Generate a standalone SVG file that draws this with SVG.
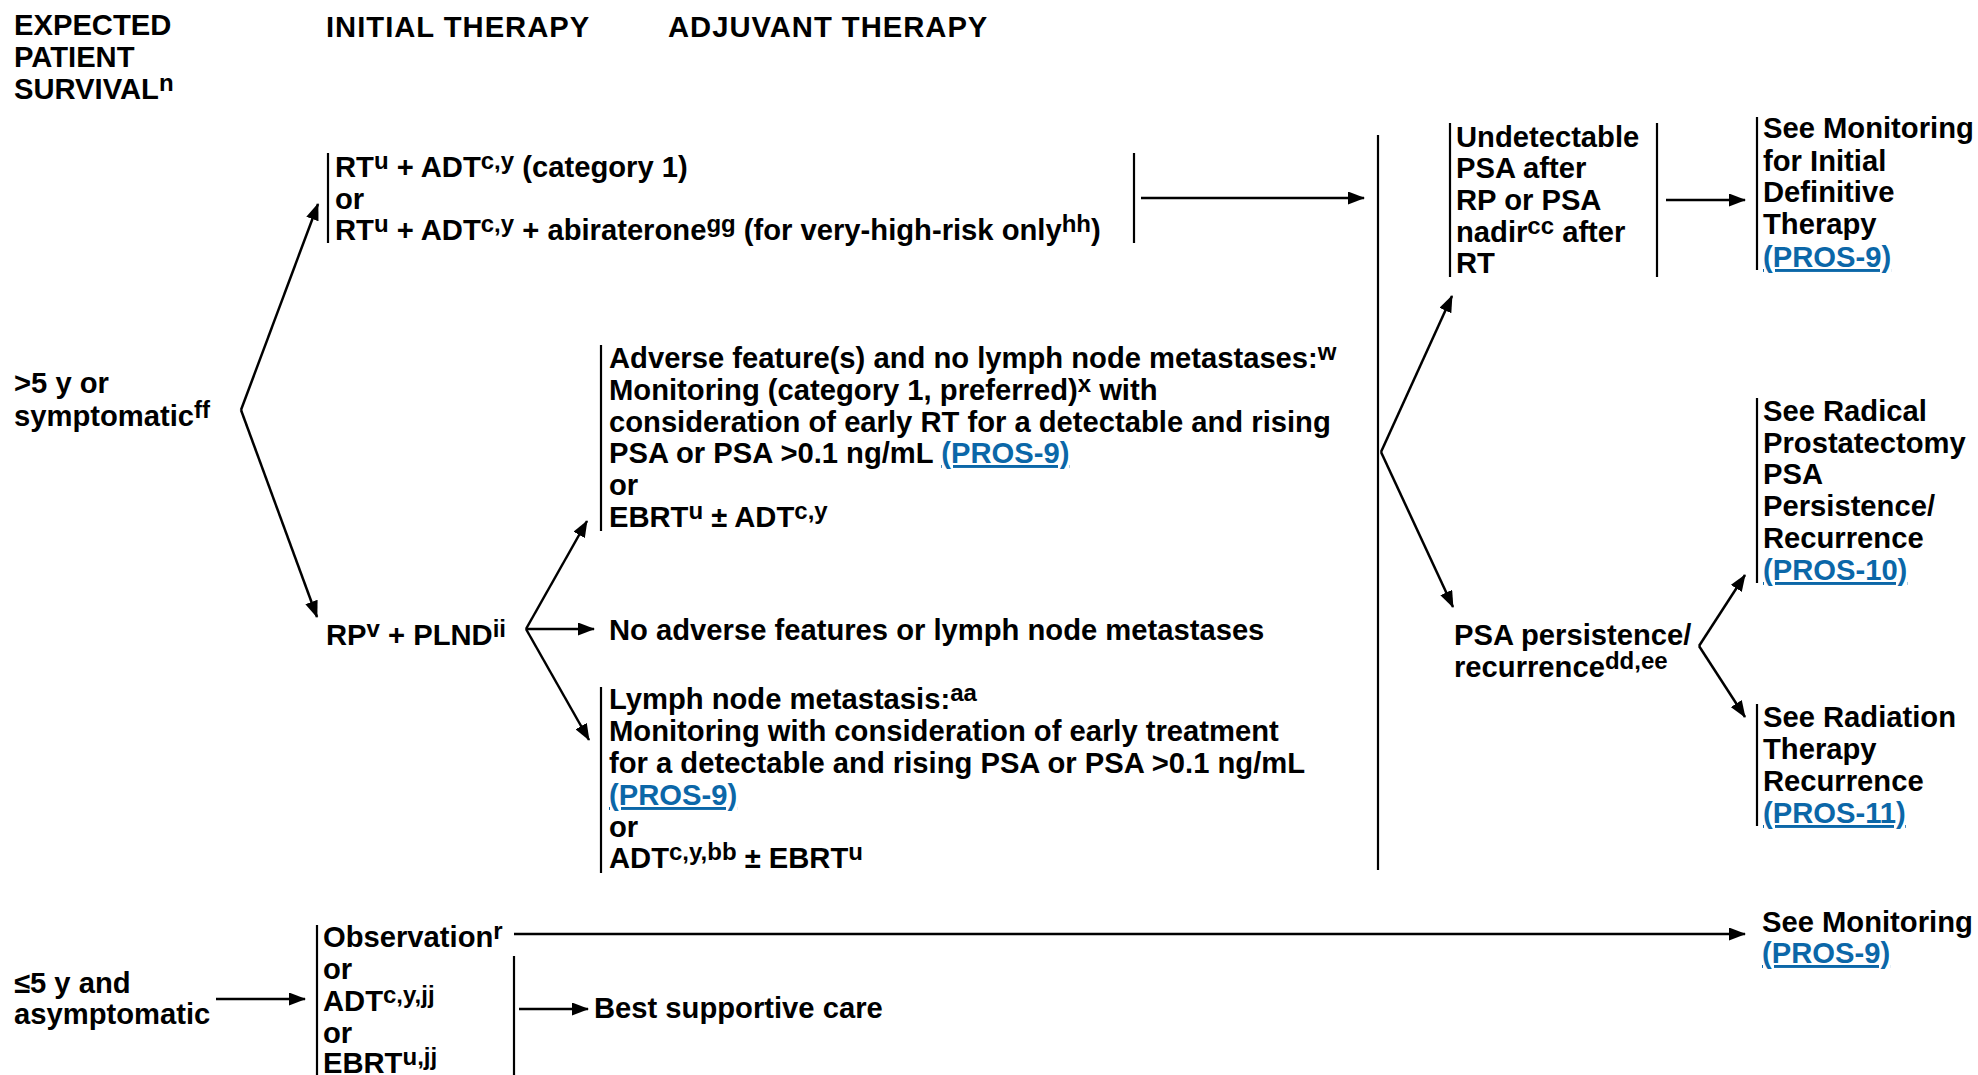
<svg xmlns="http://www.w3.org/2000/svg" width="1978" height="1075" viewBox="0 0 1978 1075">
<style>
.t{font-family:"Liberation Sans",Arial,Helvetica,sans-serif;font-weight:bold;font-size:29.2px;fill:#000}
.h{letter-spacing:1px}
.s{font-size:24px}
.lk{fill:#0b67a8;text-decoration:underline}
.bar{stroke:#000;stroke-width:2.2;fill:none}
.cn line{stroke:#000;stroke-width:2.5;marker-end:url(#ah)}
</style>
<defs>
<marker id="ah" markerUnits="userSpaceOnUse" markerWidth="17" markerHeight="13" refX="16" refY="6.5" orient="auto">
<path d="M0,0 L17,6.5 L0,13 z" fill="#000"/>
</marker>
</defs>
<rect width="1978" height="1075" fill="#fff"/>

<g id="headers">
<text class="t" x="14" y="35">EXPECTED</text>
<text class="t" x="14" y="67">PATIENT</text>
<text class="t" x="14" y="99">SURVIVAL<tspan class="s" dy="-8">n</tspan></text>
<text class="t h" x="326" y="37">INITIAL THERAPY</text>
<text class="t h" x="668" y="37">ADJUVANT THERAPY</text>
</g>

<g id="node-gt5">
<text class="t" x="14" y="393">&gt;5 y or</text>
<text class="t" x="14" y="426">symptomatic<tspan class="s" dy="-8">ff</tspan></text>
</g>

<g id="node-le5">
<text class="t" x="14" y="993">≤5 y and</text>
<text class="t" x="14" y="1024">asymptomatic</text>
</g>

<g id="node-rt">
<line class="bar" x1="328" y1="153" x2="328" y2="243"/>
<line class="bar" x1="1134" y1="153" x2="1134" y2="243"/>
<text class="t" x="335" y="177">RT<tspan class="s" dy="-8">u</tspan><tspan dy="8"> + ADT</tspan><tspan class="s" dy="-8">c,y</tspan><tspan dy="8"> (category 1)</tspan></text>
<text class="t" x="335" y="209">or</text>
<text class="t" x="335" y="240">RT<tspan class="s" dy="-8">u</tspan><tspan dy="8"> + ADT</tspan><tspan class="s" dy="-8">c,y</tspan><tspan dy="8"> + abiraterone</tspan><tspan class="s" dy="-8">gg</tspan><tspan dy="8"> (for very-high-risk only</tspan><tspan class="s" dy="-8">hh</tspan><tspan dy="8">)</tspan></text>
</g>

<g id="node-rp">
<text class="t" x="326" y="645">RP<tspan class="s" dy="-8">v</tspan><tspan dy="8"> + PLND</tspan><tspan class="s" dy="-8">ii</tspan></text>
</g>

<g id="node-adverse">
<line class="bar" x1="601" y1="345" x2="601" y2="531"/>
<text class="t" x="609" y="368">Adverse feature(s) and no lymph node metastases:<tspan class="s" dy="-8">w</tspan></text>
<text class="t" x="609" y="400">Monitoring (category 1, preferred)<tspan class="s" dy="-8">x</tspan><tspan dy="8"> with</tspan></text>
<text class="t" x="609" y="432">consideration of early RT for a detectable and rising</text>
<text class="t" x="609" y="463">PSA or PSA &gt;0.1 ng/mL <tspan class="lk">(PROS-9)</tspan></text>
<text class="t" x="609" y="495">or</text>
<text class="t" x="609" y="527">EBRT<tspan class="s" dy="-8">u</tspan><tspan dy="8"> ± ADT</tspan><tspan class="s" dy="-8">c,y</tspan></text>
</g>

<g id="node-noadverse">
<text class="t" x="609" y="640">No adverse features or lymph node metastases</text>
</g>

<g id="node-lymph">
<line class="bar" x1="601" y1="687" x2="601" y2="873"/>
<text class="t" x="609" y="709">Lymph node metastasis:<tspan class="s" dy="-8">aa</tspan></text>
<text class="t" x="609" y="741">Monitoring with consideration of early treatment</text>
<text class="t" x="609" y="773">for a detectable and rising PSA or PSA &gt;0.1 ng/mL</text>
<text class="t lk" x="609" y="805">(PROS-9)</text>
<text class="t" x="609" y="837">or</text>
<text class="t" x="609" y="868">ADT<tspan class="s" dy="-8">c,y,bb</tspan><tspan dy="8"> ± EBRT</tspan><tspan class="s" dy="-8">u</tspan></text>
</g>

<g id="collector">
<line class="bar" x1="1378" y1="135" x2="1378" y2="870"/>
</g>

<g id="node-undetectable">
<line class="bar" x1="1450" y1="123" x2="1450" y2="277"/>
<line class="bar" x1="1657" y1="123" x2="1657" y2="277"/>
<text class="t" x="1456" y="147">Undetectable</text>
<text class="t" x="1456" y="178">PSA after</text>
<text class="t" x="1456" y="210">RP or PSA</text>
<text class="t" x="1456" y="242">nadir<tspan class="s" dy="-8">cc</tspan><tspan dy="8"> after</tspan></text>
<text class="t" x="1456" y="273">RT</text>
</g>

<g id="node-monitoring-initial">
<line class="bar" x1="1757" y1="117" x2="1757" y2="270"/>
<text class="t" x="1763" y="138">See Monitoring</text>
<text class="t" x="1763" y="171">for Initial</text>
<text class="t" x="1763" y="202">Definitive</text>
<text class="t" x="1763" y="234">Therapy</text>
<text class="t lk" x="1763" y="267">(PROS-9)</text>
</g>

<g id="node-psa-persistence">
<text class="t" x="1454" y="645">PSA persistence/</text>
<text class="t" x="1454" y="677">recurrence<tspan class="s" dy="-8">dd,ee</tspan></text>
</g>

<g id="node-radical">
<line class="bar" x1="1757" y1="398" x2="1757" y2="583"/>
<text class="t" x="1763" y="421">See Radical</text>
<text class="t" x="1763" y="453">Prostatectomy</text>
<text class="t" x="1763" y="484">PSA</text>
<text class="t" x="1763" y="516">Persistence/</text>
<text class="t" x="1763" y="548">Recurrence</text>
<text class="t lk" x="1763" y="580">(PROS-10)</text>
</g>

<g id="node-radiation">
<line class="bar" x1="1757" y1="704" x2="1757" y2="826"/>
<text class="t" x="1763" y="727">See Radiation</text>
<text class="t" x="1763" y="759">Therapy</text>
<text class="t" x="1763" y="791">Recurrence</text>
<text class="t lk" x="1763" y="823">(PROS-11)</text>
</g>

<g id="node-monitoring">
<text class="t" x="1762" y="932">See Monitoring</text>
<text class="t lk" x="1762" y="963">(PROS-9)</text>
</g>

<g id="node-observation">
<line class="bar" x1="317" y1="925" x2="317" y2="1075"/>
<line class="bar" x1="514" y1="956" x2="514" y2="1075"/>
<text class="t" x="323" y="947">Observation<tspan class="s" dy="-8">r</tspan></text>
<text class="t" x="323" y="979">or</text>
<text class="t" x="323" y="1011">ADT<tspan class="s" dy="-8">c,y,jj</tspan></text>
<text class="t" x="323" y="1043">or</text>
<text class="t" x="323" y="1073">EBRT<tspan class="s" dy="-8">u,jj</tspan></text>
</g>

<g id="node-supportive">
<text class="t" x="594" y="1018">Best supportive care</text>
</g>

<g id="connectors" class="cn">
<line x1="241" y1="410" x2="318" y2="204"/>
<line x1="241" y1="410" x2="317" y2="617"/>
<line x1="1141" y1="198" x2="1364" y2="198"/>
<line x1="526" y1="629" x2="587" y2="521"/>
<line x1="526" y1="629" x2="594" y2="629"/>
<line x1="526" y1="629" x2="589" y2="740"/>
<line x1="1381" y1="452" x2="1452" y2="296"/>
<line x1="1381" y1="452" x2="1453" y2="607"/>
<line x1="1666" y1="200" x2="1745" y2="200"/>
<line x1="1699" y1="646" x2="1745" y2="575"/>
<line x1="1699" y1="646" x2="1745" y2="717"/>
<line x1="216" y1="999" x2="305" y2="999"/>
<line x1="514" y1="934" x2="1745" y2="934"/>
<line x1="519" y1="1009" x2="588" y2="1009"/>
</g>
</svg>
